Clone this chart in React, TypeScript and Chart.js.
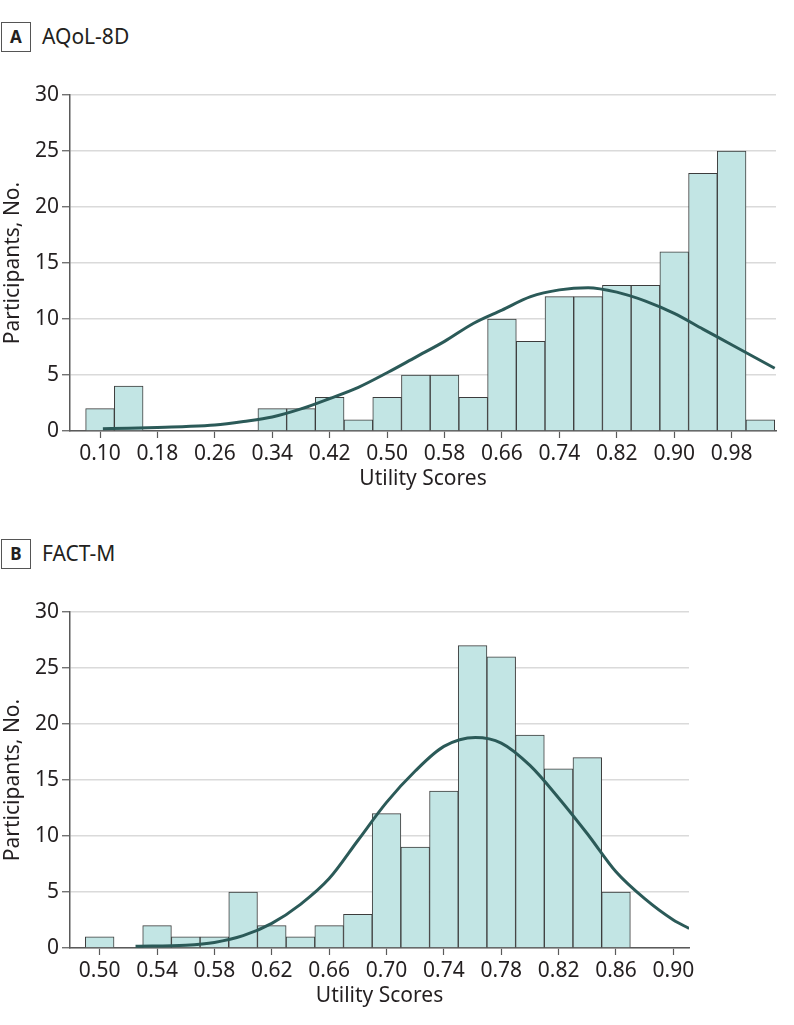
import React, { useEffect, useRef } from 'react';
import { Chart, registerables } from 'chart.js';

Chart.register(...registerables);

// ---------- Panel A: AQoL-8D ----------
const aqolBinCenters = [0.10, 0.14, 0.18, 0.22, 0.26, 0.30, 0.34, 0.38, 0.42, 0.46, 0.50, 0.54, 0.58, 0.62, 0.66, 0.70, 0.74, 0.78, 0.82, 0.86, 0.90, 0.94, 0.98, 1.02];
const aqolCounts = [2, 4, 0, 0, 0, 0, 2, 2, 3, 1, 3, 5, 5, 3, 10, 8, 12, 12, 13, 13, 16, 23, 25, 1];
const aqolCurveX = [0.104, 0.14, 0.18, 0.22, 0.26, 0.30, 0.34, 0.38, 0.42, 0.46, 0.50, 0.54, 0.58, 0.62, 0.66, 0.70, 0.74, 0.78, 0.82, 0.86, 0.90, 0.94, 0.98, 1.04];
const aqolCurveY = [0.2, 0.25, 0.32, 0.4, 0.54, 0.85, 1.25, 1.97, 2.9, 3.9, 5.2, 6.6, 8.0, 9.6, 10.8, 12.0, 12.6, 12.8, 12.4, 11.6, 10.5, 9.1, 7.7, 5.6];
const aqolTickLabels = ['0.10', '0.18', '0.26', '0.34', '0.42', '0.50', '0.58', '0.66', '0.74', '0.82', '0.90', '0.98'];

// ---------- Panel B: FACT-M ----------
const factBinCenters = [0.50, 0.52, 0.54, 0.56, 0.58, 0.60, 0.62, 0.64, 0.66, 0.68, 0.70, 0.72, 0.74, 0.76, 0.78, 0.80, 0.82, 0.84, 0.86];
const factCounts = [1, 0, 2, 1, 1, 5, 2, 1, 2, 3, 12, 9, 14, 27, 26, 19, 16, 17, 5];
const factCurveX = [0.525, 0.56, 0.58, 0.60, 0.62, 0.64, 0.66, 0.68, 0.70, 0.72, 0.74, 0.762, 0.78, 0.80, 0.82, 0.84, 0.86, 0.88, 0.90, 0.911];
const factCurveY = [0.15, 0.25, 0.5, 1.1, 2.2, 3.9, 6.2, 9.6, 13.0, 15.8, 18.0, 18.8, 18.3, 16.3, 13.4, 10.2, 6.8, 4.4, 2.5, 1.75];
const factTickLabels = ['0.50', '0.54', '0.58', '0.62', '0.66', '0.70', '0.74', '0.78', '0.82', '0.86', '0.90'];

const yTickValues = [0, 5, 10, 15, 20, 25, 30];

const X_TITLE = 'Utility Scores';
const Y_TITLE = 'Participants, No.';

const FONT = '"Noto Sans", "Open Sans", sans-serif';
const TEXT = '#231f20';
const FILL = '#c2e5e4';
const EDGE = '#3c3c3c';
const CURVE = '#2b5a58';
const GRID = '#dadada';
const AXIS = '#5a5a5a';

type HistProps = {
  centers: number[];
  counts: number[];
  curveX: number[];
  curveY: number[];
  tickLabels: string[];
  xMin: number;
  xMax: number;
  top: number;
  rightPad: number;
};

function Histogram(p: HistProps) {
  const ref = useRef<HTMLCanvasElement>(null);
  useEffect(() => {
    if (!ref.current) return;
    const tickValues = p.tickLabels.map((t) => parseFloat(t));
    const chart = new Chart(ref.current, {
      type: 'bar',
      data: {
        datasets: [
          {
            type: 'line',
            data: p.curveX.map((x, i) => ({ x, y: p.curveY[i] })),
            borderColor: CURVE,
            borderWidth: 3,
            pointRadius: 0,
            cubicInterpolationMode: 'monotone',
            fill: false,
            order: 0,
          } as any,
          {
            type: 'bar',
            data: p.centers.map((x, i) => ({ x, y: p.counts[i] === 0 ? null : p.counts[i] })),
            backgroundColor: FILL,
            borderColor: EDGE,
            borderWidth: 1,
            barPercentage: 1,
            categoryPercentage: 1,
            order: 1,
          } as any,
        ],
      },
      options: {
        responsive: false,
        animation: false,
        devicePixelRatio: 1,
        layout: { padding: { top: 25, left: 0, right: p.rightPad, bottom: 0 } },
        plugins: { legend: { display: false }, tooltip: { enabled: false } },
        scales: {
          x: {
            type: 'linear',
            min: p.xMin,
            max: p.xMax,
            offset: false,
            afterFit: (s: any) => { s.height = 69; },
            afterBuildTicks: (s: any) => { s.ticks = tickValues.map((v) => ({ value: v })); },
            grid: { display: true, drawOnChartArea: false, offset: false, tickLength: 7, tickColor: AXIS, tickWidth: 1.2 },
            border: { display: true, color: AXIS, width: 1.5 },
            ticks: {
              autoSkip: false,
              maxRotation: 0,
              padding: 3,
              color: TEXT,
              font: { family: FONT, size: 21 },
              callback: (_v: any, i: number) => p.tickLabels[i],
            },
            title: { display: true, text: X_TITLE, color: TEXT, font: { family: FONT, size: 21 }, padding: { top: 0, bottom: 8 } },
          },
          y: {
            type: 'linear',
            min: 0,
            max: 30,
            afterFit: (s: any) => { s.width = 70; },
            afterBuildTicks: (s: any) => { s.ticks = yTickValues.map((v) => ({ value: v })); },
            grid: { display: true, color: GRID, lineWidth: 1.5, tickLength: 8, tickColor: AXIS, tickWidth: 1.2 },
            border: { display: true, color: AXIS, width: 1.5 },
            ticks: { padding: 3, color: TEXT, font: { family: FONT, size: 21 } },
            title: { display: true, text: Y_TITLE, color: TEXT, font: { family: FONT, size: 21 }, padding: { top: 0, bottom: 0 } },
          },
        },
      } as any,
    });
    return () => chart.destroy();
  }, []);
  return (
    <canvas
      ref={ref}
      width={794}
      height={430}
      style={{ position: 'absolute', left: 0, top: p.top, width: 794, height: 430 }}
    />
  );
}

function PanelHeader({ letter, title, top }: { letter: string; title: string; top: number }) {
  return (
    <>
      <div
        style={{
          position: 'absolute', left: 1, top: top, width: 28, height: 28,
          border: '1px solid #555', display: 'flex', alignItems: 'center', justifyContent: 'center',
          fontFamily: FONT, fontWeight: 700, fontSize: 17, color: TEXT, lineHeight: '28px',
        }}
      >
        {letter}
      </div>
      <div
        style={{
          position: 'absolute', left: 42, top: top - 1, height: 30, lineHeight: '30px',
          fontFamily: FONT, fontSize: 21, color: TEXT, whiteSpace: 'nowrap',
        }}
      >
        {title}
      </div>
    </>
  );
}

export default function App() {
  return (
    <div style={{ position: 'absolute', left: 0, top: 0, width: 794, height: 1025, background: '#fff' }}>
      <PanelHeader letter="A" title="AQoL-8D" top={22} />
      <Histogram
        centers={aqolBinCenters}
        counts={aqolCounts}
        curveX={aqolCurveX}
        curveY={aqolCurveY}
        tickLabels={aqolTickLabels}
        xMin={0.0582}
        xMax={1.0418}
        top={70}
        rightPad={18}
      />
      <PanelHeader letter="B" title="FACT-M" top={539} />
      <Histogram
        centers={factBinCenters}
        counts={factCounts}
        curveX={factCurveX}
        curveY={factCurveY}
        tickLabels={factTickLabels}
        xMin={0.4793}
        xMax={0.9109}
        top={587}
        rightPad={105}
      />
    </div>
  );
}
